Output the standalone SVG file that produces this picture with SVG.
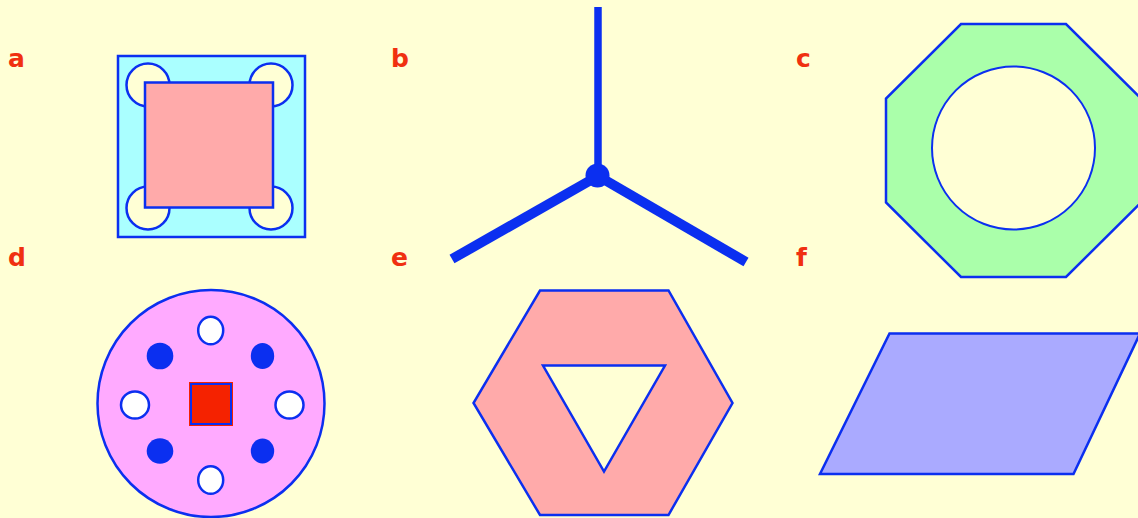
<svg xmlns="http://www.w3.org/2000/svg" width="1138" height="518" viewBox="0 0 1138 518">
<style>
.lbl{font-family:"Comic Sans MS","DejaVu Sans",sans-serif;font-weight:bold;font-size:25px;fill:#f03010}
.s{stroke:#0b2ff0;stroke-width:2.5}
.bg{fill:#ffffd5}
</style>
<rect width="1138" height="518" fill="#ffffd5"/>
<g id="labels">
<text class="lbl" x="8" y="67">a</text>
<text class="lbl" x="391" y="67">b</text>
<text class="lbl" x="796" y="67">c</text>
<text class="lbl" x="8" y="266">d</text>
<text class="lbl" x="391" y="266">e</text>
<text class="lbl" x="796" y="266">f</text>
</g>
<g id="a">
<rect class="s" x="118" y="56" width="187" height="181" fill="#aaffff"/>
<circle class="s bg" cx="148" cy="85" r="21.5"/>
<circle class="s bg" cx="271" cy="85" r="21.5"/>
<circle class="s bg" cx="148" cy="208" r="21.5"/>
<circle class="s bg" cx="271" cy="208" r="21.5"/>
<rect class="s" x="145" y="82.5" width="128" height="125" fill="#ffaaaa"/>
</g>
<g id="b" stroke="#0b2ff0" fill="none">
<line x1="598" y1="7" x2="598" y2="176" stroke-width="7.5"/>
<line x1="598" y1="176" x2="452" y2="259" stroke-width="10"/>
<line x1="598" y1="176" x2="746" y2="262" stroke-width="10"/>
<circle cx="597.5" cy="175.5" r="12" fill="#0b2ff0" stroke="none"/>
</g>
<g id="c">
<polygon class="s" points="961,24 1066,24 1141,98.5 1141,202.5 1066,277 961,277 886,202.5 886,98.5" fill="#aaffaa"/>
<circle cx="1013.5" cy="148" r="81.5" class="bg" stroke="#0b2ff0" stroke-width="2"/>
</g>
<g id="d">
<circle cx="211" cy="403.5" r="113.5" fill="#ffaaff" class="s"/>
<ellipse cx="210.7" cy="330.5" rx="12.5" ry="13.8" fill="#ffffff" class="s"/>
<ellipse cx="210.7" cy="480" rx="12.5" ry="13.8" fill="#ffffff" class="s"/>
<ellipse cx="135" cy="405" rx="14" ry="13.5" fill="#ffffff" class="s"/>
<ellipse cx="289.5" cy="405" rx="14" ry="13.5" fill="#ffffff" class="s"/>
<ellipse cx="160" cy="356" rx="13.3" ry="13.3" fill="#0b2ff0"/>
<ellipse cx="262.5" cy="356" rx="11.7" ry="13" fill="#0b2ff0"/>
<ellipse cx="160" cy="451" rx="13.3" ry="12.8" fill="#0b2ff0"/>
<ellipse cx="262.5" cy="451" rx="11.7" ry="12.5" fill="#0b2ff0"/>
<rect x="189.5" y="382.5" width="43" height="43" fill="none" stroke="#f52200" stroke-width="1"/>
<rect x="191" y="384" width="40" height="40" fill="#f52200" stroke="#0b2ff0" stroke-width="2"/>
</g>
<g id="e">
<polygon class="s" points="540,290.5 668.5,290.5 732.5,403 668.5,515 540,515 473.5,403" fill="#ffaaaa"/>
<polygon class="s bg" points="543,365.5 665,365.5 604,471.5"/>
</g>
<g id="f">
<polygon class="s" points="889.5,333.5 1140,333.5 1073.5,474 820,474" fill="#aaaaff"/>
</g>
</svg>
